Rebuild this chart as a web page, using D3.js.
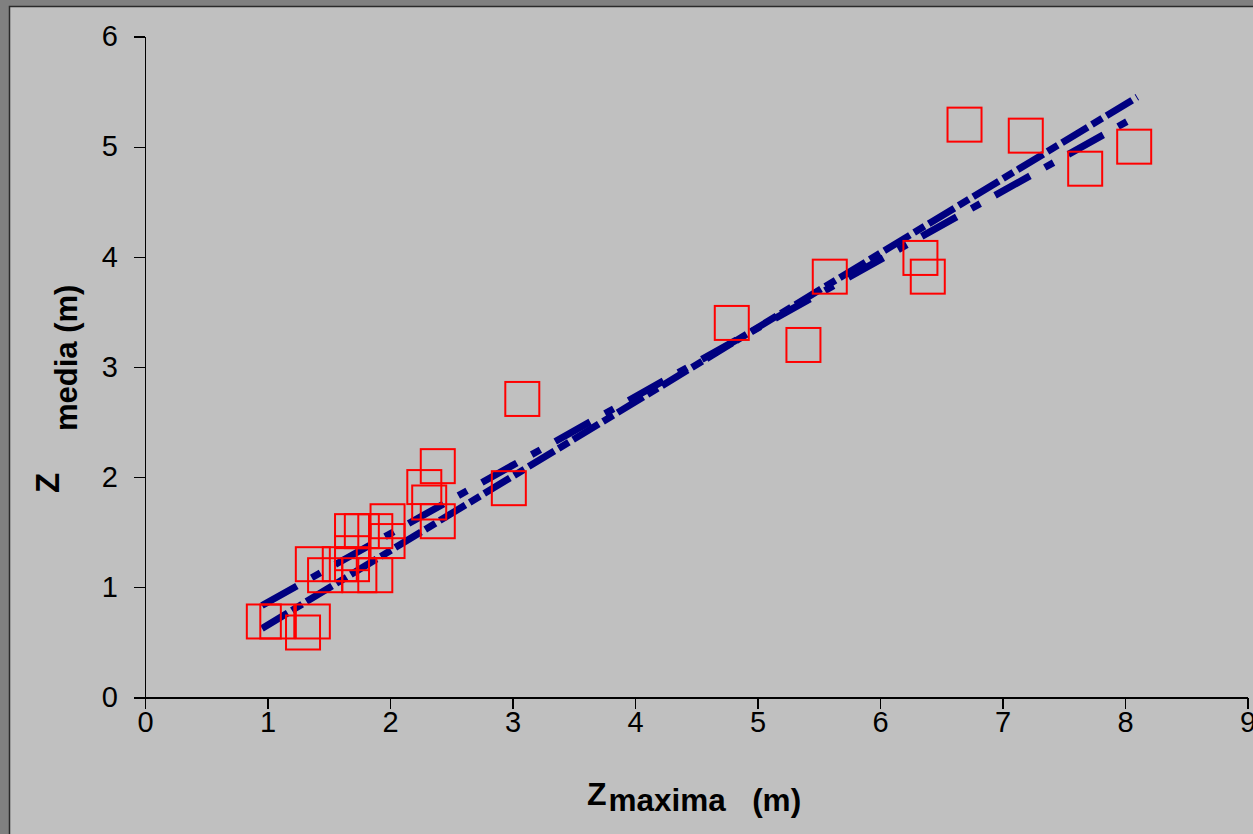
<!DOCTYPE html>
<html>
<head>
<meta charset="utf-8">
<script src="https://cdn.jsdelivr.net/npm/d3@7"></script>
<style>
  body { margin: 0; background: #808080; }
  svg { display: block; font-family: "Liberation Sans", Arial, sans-serif; }
  .axis path, .axis line { stroke: #000; stroke-width: 1.2px; shape-rendering: crispEdges; }
  .axis text { font-family: "Liberation Sans", Arial, sans-serif; font-size: 29px; fill: #000; }
</style>
</head>
<body>
<div id="chart"></div>
<script>
// Z maxima (m) vs Z media (m), observed points
const zMaxima = [0.97, 1.08, 1.37, 1.29, 1.37, 1.47, 1.59, 1.69, 1.77, 1.69, 1.75, 1.88, 1.98, 1.98, 1.88, 1.69,
  2.39, 2.28, 2.32, 2.39, 2.97, 3.08, 4.79, 5.375, 5.59, 6.33, 6.39, 6.69, 7.19, 7.675, 8.075]
const zMedia = [0.69, 0.69, 0.69, 0.59, 1.21, 1.11, 1.21, 1.51, 1.51, 1.21, 1.11, 1.11, 1.60, 1.42, 1.51, 1.31,
  2.10, 1.91, 1.77, 1.60, 1.90, 2.71, 3.40, 3.20, 3.82, 3.99, 3.82, 5.20, 5.10, 4.80, 5.00]

// two fitted lines (start / end)
const fitX = [0.955, 8.1]
const fitA = [0.835, 5.28]
const fitB = [0.626, 5.45]

const xTicks = [0, 1, 2, 3, 4, 5, 6, 7, 8, 9]
const yTicks = [0, 1, 2, 3, 4, 5, 6]

const W = 1253, H = 834
const svg = d3.select("#chart").append("svg")
  .attr("width", W)
  .attr("height", H)

svg.append("rect")
  .attr("width", W).attr("height", H)
  .attr("fill", "#808080")

svg.append("rect")
  .attr("x", 9.5).attr("y", 6.5)
  .attr("width", W + 50).attr("height", H + 50)
  .attr("fill", "#c0c0c0")
  .attr("stroke", "#2a2a2a")
  .attr("stroke-width", 1.5)

const x = d3.scaleLinear().domain([0, 9]).range([145, 1247.5])
const y = d3.scaleLinear().domain([0, 6]).range([697.5, 36.5])

svg.append("g")
  .attr("class", "axis")
  .attr("transform", `translate(0,${y(0)})`)
  .call(d3.axisBottom(x).tickValues(xTicks).tickFormat(d3.format("d"))
    .tickSizeInner(11).tickSizeOuter(0).tickPadding(3))

svg.append("g")
  .attr("class", "axis")
  .attr("transform", `translate(${x(0)},0)`)
  .call(d3.axisLeft(y).tickValues(yTicks).tickFormat(d3.format("d"))
    .tickSizeInner(11).tickSizeOuter(0).tickPadding(16))

svg.selectAll(".axis .domain").attr("stroke", "#000")

// fitted lines
const fits = [
  { vals: fitA, dash: "40,17,10,17" },
  { vals: fitB, dash: "30,5,12,5" }
]
const line = d3.line().x(d => x(d[0])).y(d => y(d[1]))
svg.append("g")
  .selectAll("path")
  .data(fits)
  .join("path")
  .attr("d", d => line(fitX.map((v, i) => [v, d.vals[i]])))
  .attr("fill", "none")
  .attr("stroke", "#000080")
  .attr("stroke-width", 7)
  .attr("stroke-dasharray", d => d.dash)

// open red squares
const pts = zMaxima.map((v, i) => ({ x: v, y: zMedia[i] }))
const s = 34
svg.append("g")
  .selectAll("rect")
  .data(pts)
  .join("rect")
  .attr("x", d => x(d.x) - s / 2)
  .attr("y", d => y(d.y) - s / 2)
  .attr("width", s)
  .attr("height", s)
  .attr("fill", "none")
  .attr("stroke", "#ff0000")
  .attr("stroke-width", 2)

// x title
const xt = svg.append("text")
  .attr("x", 587)
  .attr("y", 805)
  .attr("font-weight", "bold")
  .attr("font-size", 32)
xt.append("tspan").text("Z")
xt.append("tspan").attr("dx", 2).attr("dy", 6).attr("font-size", 31.5).text("maxima\u00a0\u00a0\u00a0(m)")

// y title
const yt = svg.append("text")
  .attr("transform", "translate(59,493) rotate(-90)")
  .attr("font-weight", "bold")
  .attr("font-size", 33)
yt.append("tspan").text("Z")
yt.append("tspan").attr("x", 62).attr("dy", 18).attr("font-size", 31).text("media (m)")
</script>
</body>
</html>
